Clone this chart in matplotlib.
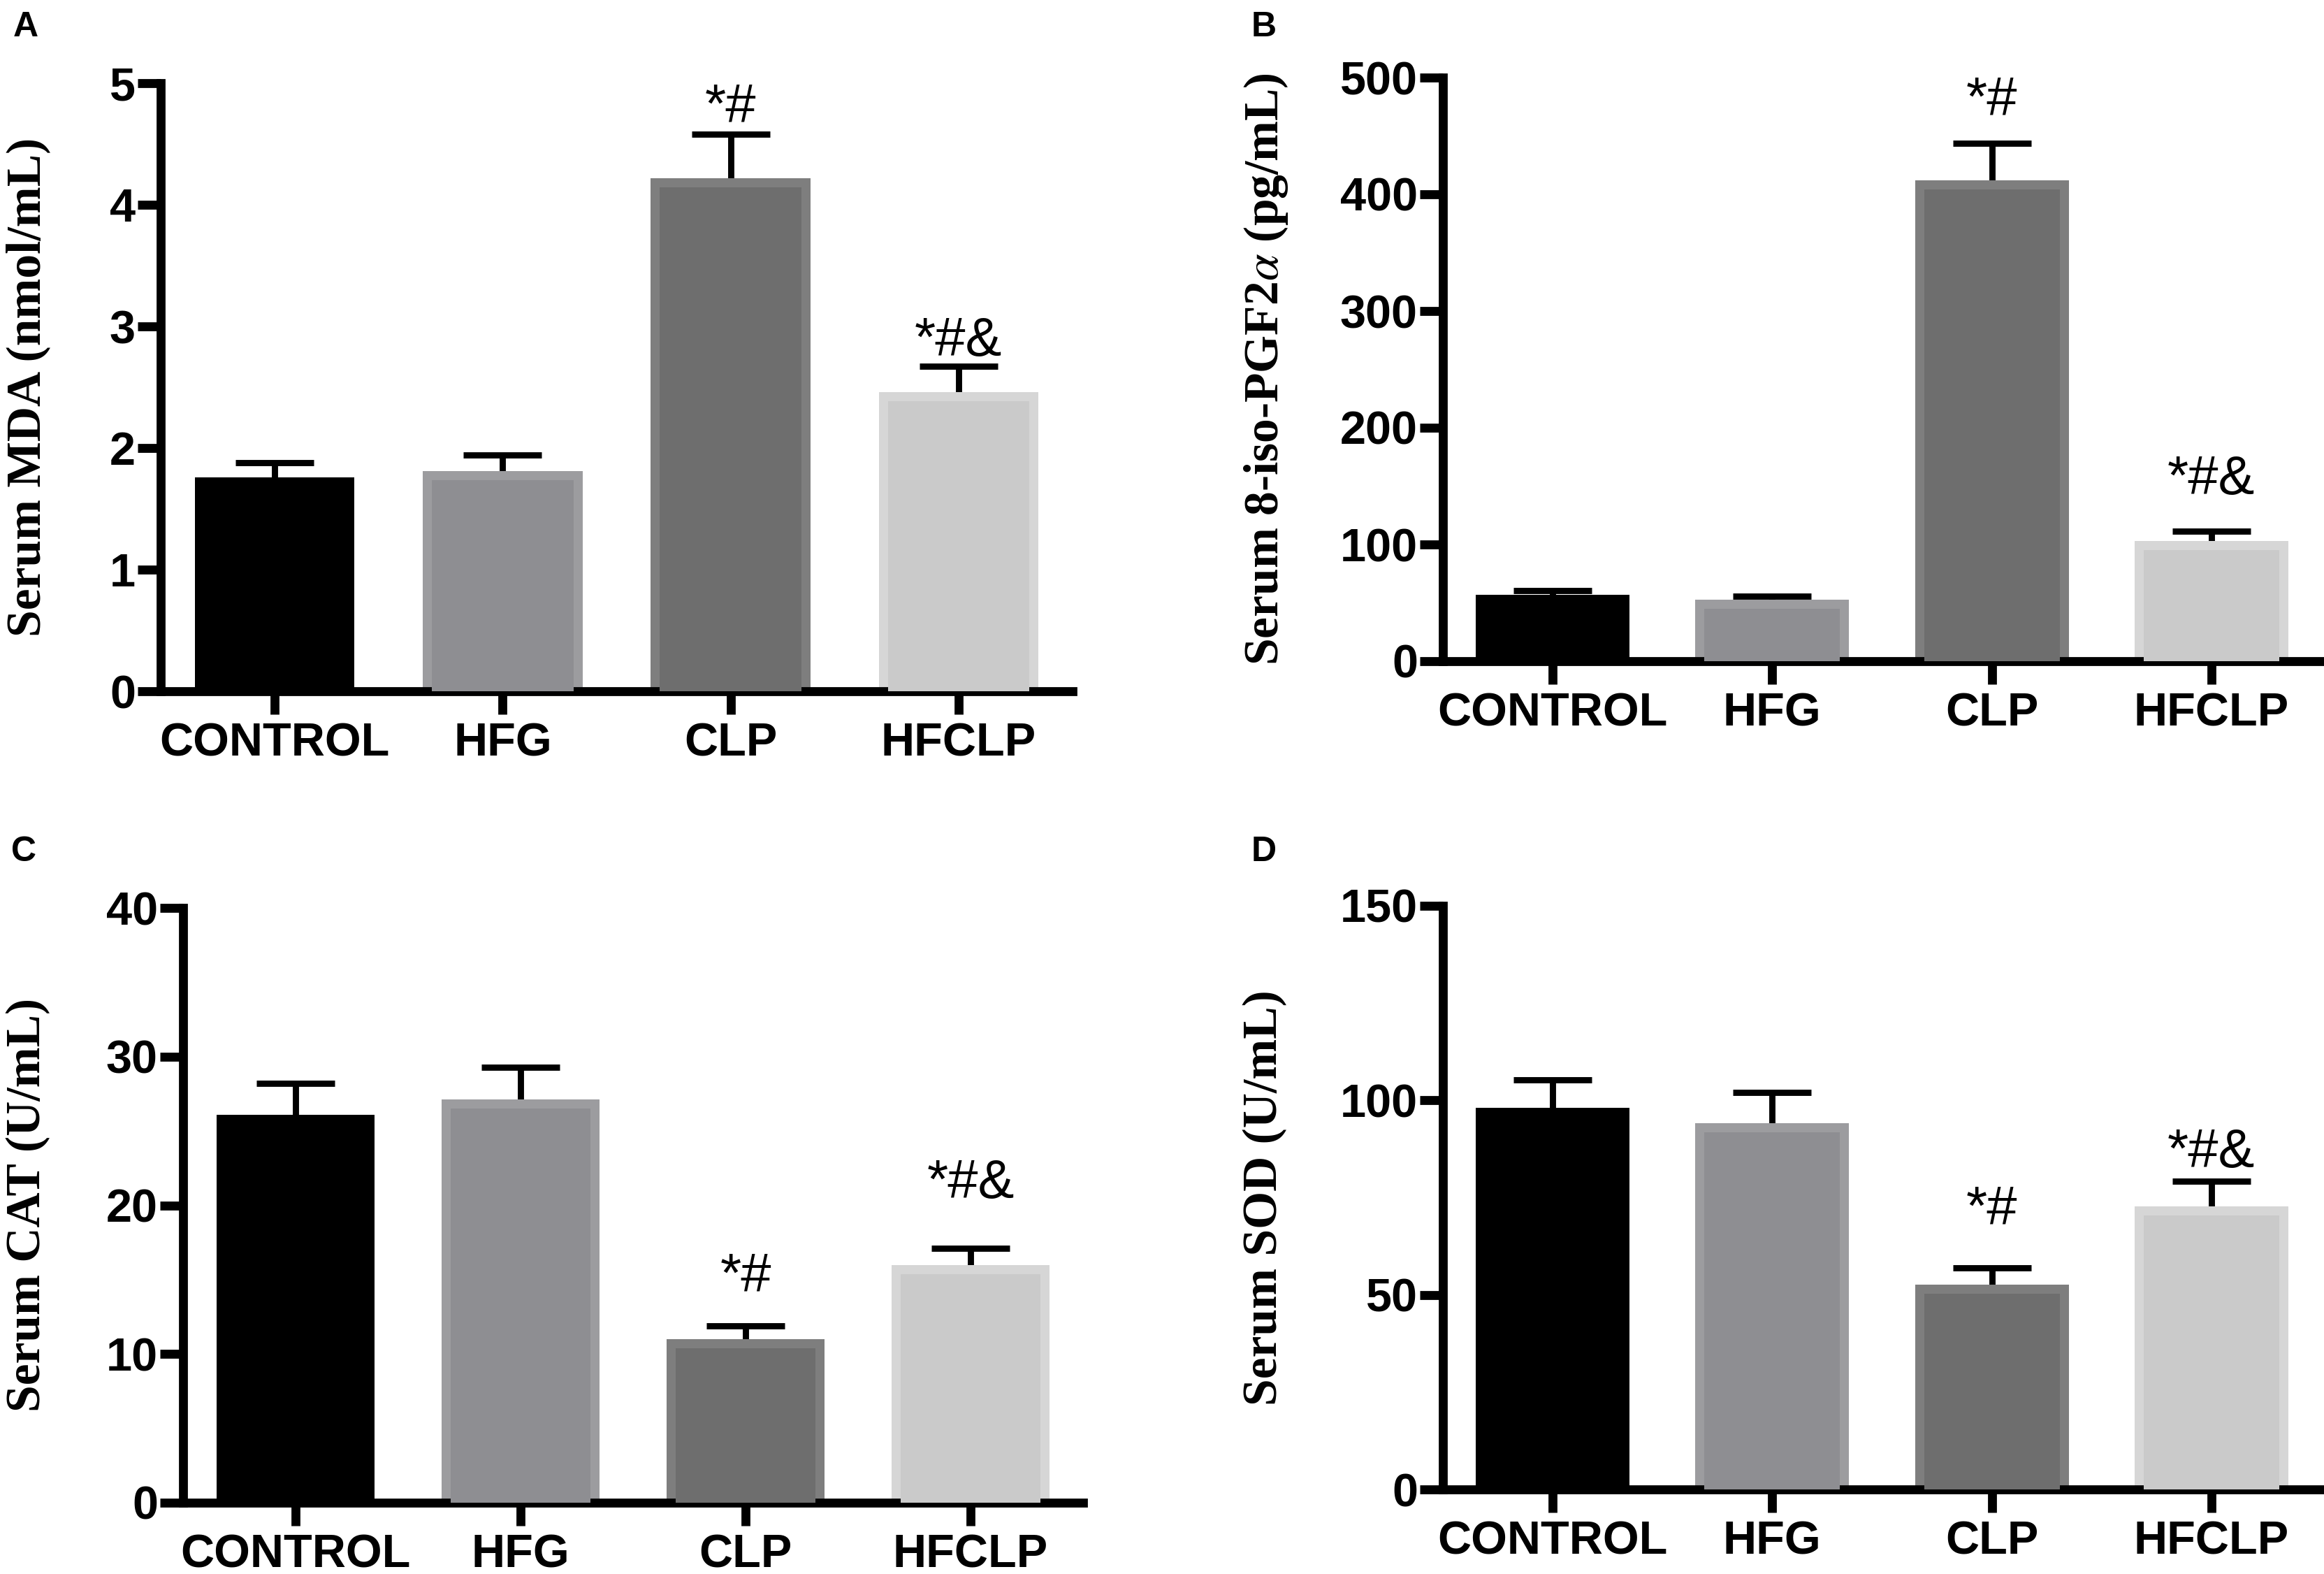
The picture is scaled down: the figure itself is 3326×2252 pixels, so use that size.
import matplotlib
matplotlib.use('Agg')
import matplotlib.pyplot as plt
import matplotlib.transforms as mtransforms
import numpy as np

plt.rcParams['font.family'] = ['Liberation Sans', 'DejaVu Sans']
plt.rcParams['mathtext.fontset'] = 'stix'

W, H = 3326, 2252

groups = ['CONTROL', 'HFG', 'CLP', 'HFCLP']

# serum MDA (nmol/mL)
mda_mean = [1.76, 1.81, 4.22, 2.46]
mda_err = [0.12, 0.13, 0.36, 0.21]
# serum 8-iso-PGF2a (pg/mL)
iso_mean = [57, 52.5, 412, 103]
iso_err = [3.4, 3.0, 31.5, 8.6]
# serum CAT (U/mL)
cat_mean = [26.1, 27.1, 11.0, 16.0]
cat_err = [2.1, 2.2, 0.9, 1.1]
# serum SOD (U/mL)
sod_mean = [98.0, 94.1, 52.7, 72.7]
sod_err = [7.3, 8.0, 4.2, 6.5]

# significance marks (CLP, HFCLP) and the height where they sit
marks = ['', '', '*#', '*#&']
mda_mark_y = [None, None, 4.68, 2.76]
iso_mark_y = [None, None, 468, 143]
cat_mark_y = [None, None, 14.2, 20.5]
sod_mark_y = [None, None, 68.2, 82.8]

fill_colors = ['#000000', '#8e8e92', '#6e6e6e', '#cacaca']
edge_colors = ['#000000', '#9c9c9f', '#7e7e7e', '#d6d6d6']

panels = [
    dict(letter='A', mean=mda_mean, err=mda_err, mark_y=mda_mark_y,
         ylabel='Serum MDA (nmol/mL)', ymax=5, step=1,
         box=(230, 1535, 119, 989), letter_xy=(19, 16), label_x=40),
    dict(letter='B', mean=iso_mean, err=iso_err, mark_y=iso_mark_y,
         ylabel='Serum 8-iso-PGF2$\\alpha$ (pg/mL)', ymax=500, step=100,
         box=(2065, 3322, 111, 946), letter_xy=(1791, 16), label_x=1812),
    dict(letter='C', mean=cat_mean, err=cat_err, mark_y=cat_mark_y,
         ylabel='Serum CAT (U/mL)', ymax=40, step=10,
         box=(262, 1550, 1299, 2150), letter_xy=(16, 1196), label_x=40),
    dict(letter='D', mean=sod_mean, err=sod_err, mark_y=sod_mark_y,
         ylabel='Serum SOD (U/mL)', ymax=150, step=50,
         box=(2065, 3322, 1296, 2131), letter_xy=(1791, 1196), label_x=1810),
]

fig = plt.figure(figsize=(W / 200, H / 200), dpi=200)

bar_w = 0.70
band = 13  # px of lighter outline inside each bar

for p in panels:
    left, right, top, bottom = p['box']
    ax = fig.add_axes([left / W, 1 - bottom / H, (right - left) / W, (bottom - top) / H])
    x = np.arange(len(groups))
    mean = np.array(p['mean'])
    err = np.array(p['err'])

    dx = band / ((right - left) / 4)
    dy = band * p['ymax'] / (bottom - top)

    ax.errorbar(x, mean, yerr=err, fmt='none', ecolor='black', elinewidth=3.2,
                capsize=20, capthick=3.2, zorder=1)
    ax.bar(x, mean, width=bar_w, color=edge_colors, zorder=2)
    ax.bar(x, mean - dy, width=bar_w - 2 * dx, color=fill_colors, zorder=3)

    for i, m in enumerate(marks):
        if m:
            ax.text(x[i], p['mark_y'][i], m, ha='center', va='baseline',
                    fontsize=28, zorder=4)

    ax.set_xlim(-0.5, 3.5)
    ax.set_ylim(0, p['ymax'])
    ax.set_yticks(np.arange(0, p['ymax'] + p['step'] / 2, p['step']))
    ax.set_xticks(x)
    ax.set_xticklabels(groups)
    for s in ['top', 'right']:
        ax.spines[s].set_visible(False)
    for s in ['left', 'bottom']:
        ax.spines[s].set_linewidth(4.6)
    ax.tick_params(axis='both', width=4.6, length=12, direction='out',
                   labelsize=24)
    ax.tick_params(axis='y', pad=1)
    ax.tick_params(axis='x', pad=4)
    for lab in ax.get_xticklabels() + ax.get_yticklabels():
        lab.set_fontweight('bold')

    ax.set_ylabel(p['ylabel'], fontsize=25, fontweight='bold',
                  family=['Liberation Serif', 'DejaVu Serif'])
    ax.yaxis.label.set_va('center')
    trans = mtransforms.blended_transform_factory(fig.transFigure, ax.transAxes)
    ax.yaxis.set_label_coords(p['label_x'] / W, 0.5, transform=trans)

    fig.text(p['letter_xy'][0] / W, 1 - p['letter_xy'][1] / H, p['letter'],
             fontsize=18, fontweight='bold', ha='left', va='top')

fig.savefig('out.png', dpi=200, facecolor='white')
